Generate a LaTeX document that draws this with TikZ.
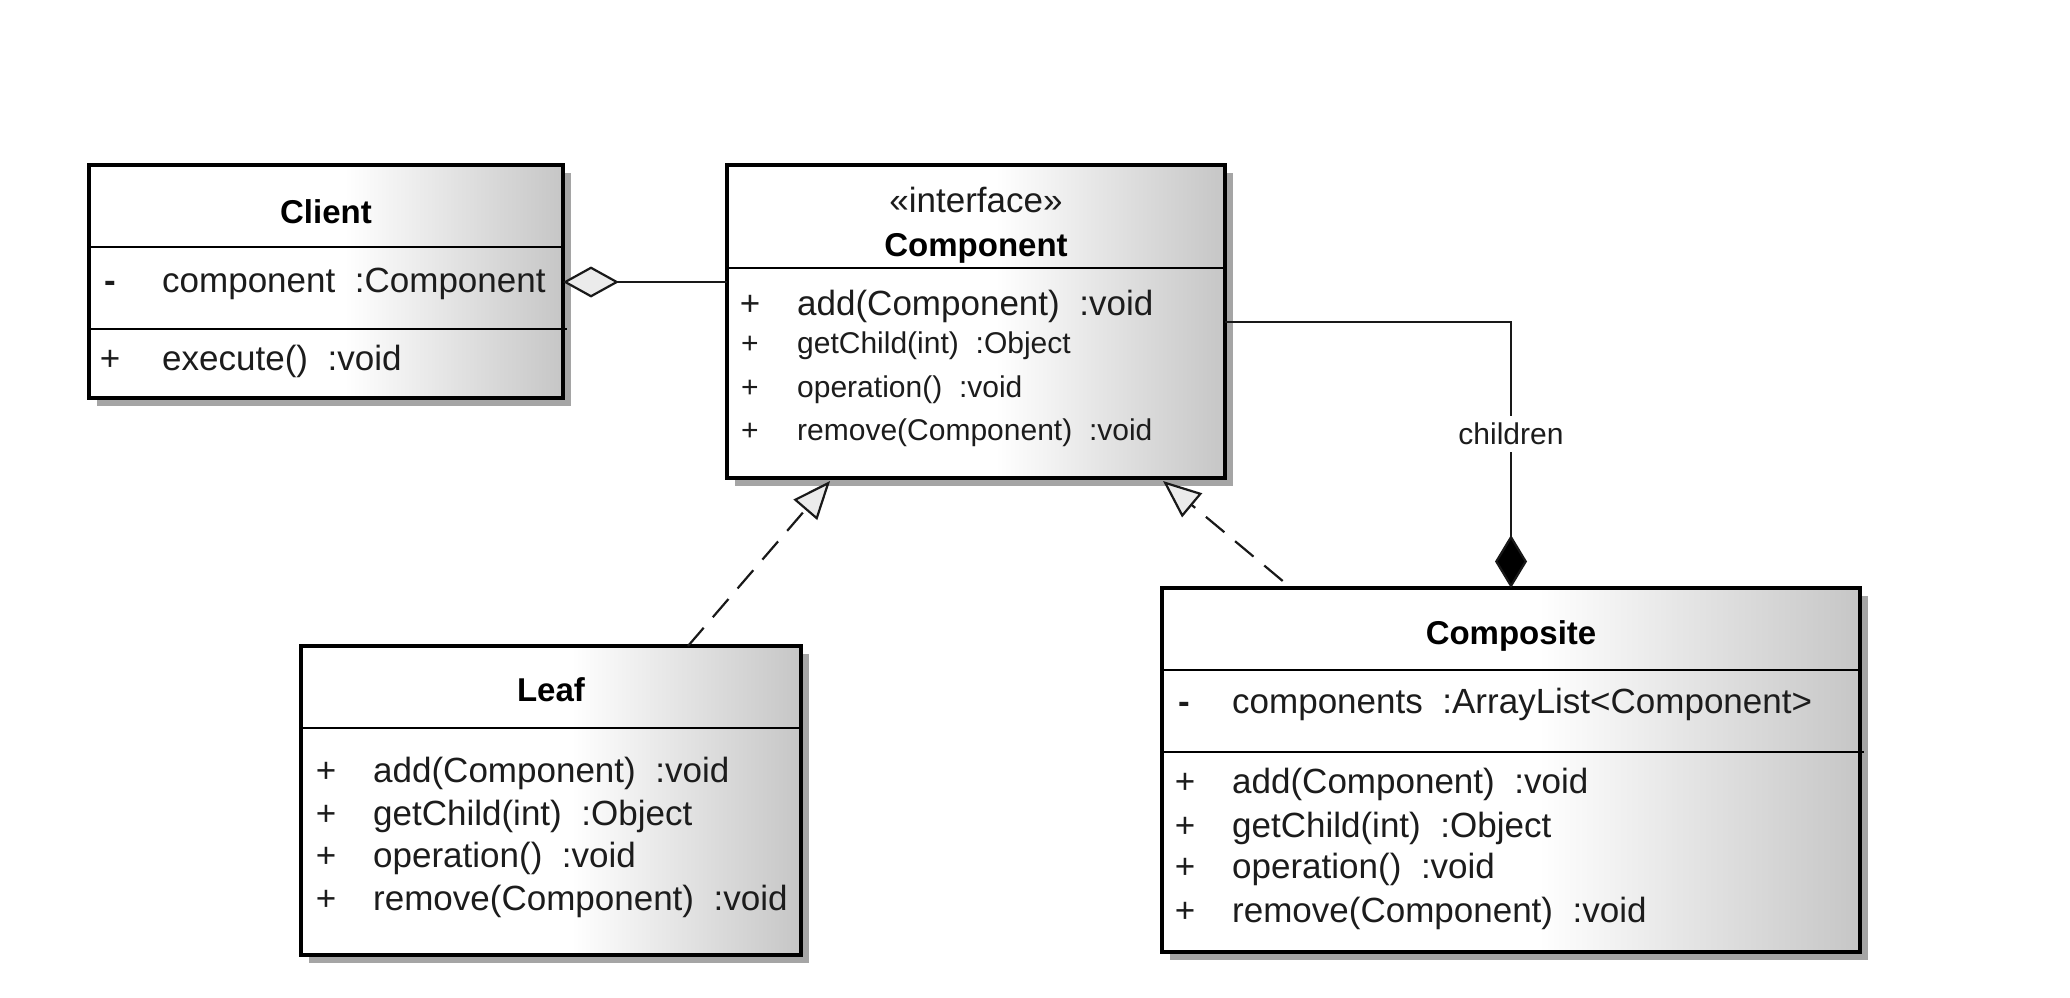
\documentclass[tikz,border=0pt]{standalone}
\usepackage{fontspec}
\setmainfont{Liberation Sans}
\usetikzlibrary{arrows.meta,calc,shadows}

\definecolor{shadowgray}{RGB}{165,165,165}
\definecolor{tipgray}{RGB}{235,235,235}
\definecolor{shadeend}{RGB}{198,198,198}
\definecolor{ink}{RGB}{28,28,28}

% white on the left half of a class box, fading to grey at its right edge
\pgfdeclarehorizontalshading{boxshade}{100bp}{color(0bp)=(white); color(25bp)=(white); color(52bp)=(white); color(75bp)=(shadeend); color(100bp)=(shadeend)}

\newcommand\typesep{\hspace{0.56em}}
\newcommand\memberfont{\fontsize{35}{42}\selectfont}
\newcommand\smallmemberfont{\fontsize{30}{36}\selectfont}
\newcommand\titlefont{\fontsize{33}{40}\selectfont\bfseries}

\begin{document}
\begin{tikzpicture}[x=1pt, y=-1pt,
  classbox/.style={draw=black, line width=3.2pt, shade, shading=boxshade,
    inner sep=0pt, outer sep=0pt,
    drop shadow={shadow xshift=8pt, shadow yshift=-8pt, fill=shadowgray, opacity=1}},
  divider/.style={line width=2.6pt, draw=black},
  member/.style={anchor=mid west, inner sep=0pt, yshift=-8pt, font=\memberfont, text=ink},
  smallmember/.style={member, font=\smallmemberfont},
  sign/.style={anchor=mid, inner sep=0pt, yshift=-8pt, font=\memberfont, text=ink},
  smallsign/.style={sign, font=\smallmemberfont},
  classtitle/.style={anchor=mid, inner sep=0pt, yshift=-6pt, font=\titlefont, text=black},
  stereo/.style={anchor=mid, inner sep=0pt, yshift=-6pt, font=\memberfont, text=ink},
  connector/.style={line width=2.2pt, draw=black!90},
  realize/.style={connector, dash pattern=on 24pt off 14pt,
    -{Triangle[length=38pt, width=31pt, fill=tipgray]}},
  aggregate/.style={connector, {Diamond[length=56pt, width=31pt, fill=tipgray]}-},
  compose/.style={connector, -{Diamond[length=53pt, width=32pt, fill=black]}},
  rolelabel/.style={font=\smallmemberfont, text=ink, fill=white, inner xsep=2pt, inner ysep=7pt}
]
\useasboundingbox (0,0) rectangle (2070,998);

% ---------- Client ----------
\node[classbox, minimum width=474pt, minimum height=233pt] (client) at (326,281.5) {};
\draw[divider] ($(client.north west)+(0,82)$) -- ($(client.north east)+(0,82)$);
\draw[divider] ($(client.north west)+(0,164)$) -- ($(client.north east)+(4,164)$);
\node[classtitle] (client-t) at ($(client.north)+(0,50)$) {Client};
\node[sign] (client-s1) at ($(client.north west)+(21,117)$) {\textbf{-}};
\node[member] (client-a) at ($(client.north west)+(73,117)$) {component\typesep:Component};
\node[sign] (client-s2) at ($(client.north west)+(21,195)$) {+};
\node[member] (client-m) at ($(client.north west)+(73,195)$) {execute()\typesep:void};

% ---------- Component ----------
\node[classbox, minimum width=498pt, minimum height=313pt] (component) at (976,321.5) {};
\draw[divider] ($(component.north west)+(0,103)$) -- ($(component.north east)+(0,103)$);
\node[stereo] (component-st) at ($(component.north)+(0,39)$) {«interface»};
\node[classtitle] (component-t) at ($(component.north)+(0,83)$) {Component};
\node[sign] (component-s1) at ($(component.north west)+(23,140)$) {+};
\node[member] (component-m1) at ($(component.north west)+(70,140)$) {add(Component)\typesep:void};
\node[smallsign] (component-s2) at ($(component.north west)+(23,178)$) {+};
\node[smallmember] (component-m2) at ($(component.north west)+(70,178)$) {getChild(int)\typesep:Object};
\node[smallsign] (component-s3) at ($(component.north west)+(23,222)$) {+};
\node[smallmember] (component-m3) at ($(component.north west)+(70,222)$) {operation()\typesep:void};
\node[smallsign] (component-s4) at ($(component.north west)+(23,265)$) {+};
\node[smallmember] (component-m4) at ($(component.north west)+(70,265)$) {remove(Component)\typesep:void};

% ---------- Leaf ----------
\node[classbox, minimum width=500pt, minimum height=309pt] (leaf) at (551,800.5) {};
\draw[divider] ($(leaf.north west)+(0,82)$) -- ($(leaf.north east)+(0,82)$);
\node[classtitle] (leaf-t) at ($(leaf.north)+(0,47)$) {Leaf};
\node[sign] (leaf-s1) at ($(leaf.north west)+(25,126)$) {+};
\node[member] (leaf-m1) at ($(leaf.north west)+(72,126)$) {add(Component)\typesep:void};
\node[sign] (leaf-s2) at ($(leaf.north west)+(25,169)$) {+};
\node[member] (leaf-m2) at ($(leaf.north west)+(72,169)$) {getChild(int)\typesep:Object};
\node[sign] (leaf-s3) at ($(leaf.north west)+(25,211)$) {+};
\node[member] (leaf-m3) at ($(leaf.north west)+(72,211)$) {operation()\typesep:void};
\node[sign] (leaf-s4) at ($(leaf.north west)+(25,254)$) {+};
\node[member] (leaf-m4) at ($(leaf.north west)+(72,254)$) {remove(Component)\typesep:void};

% ---------- Composite ----------
\node[classbox, minimum width=698pt, minimum height=364pt] (composite) at (1511,770) {};
\draw[divider] ($(composite.north west)+(0,82)$) -- ($(composite.north east)+(0,82)$);
\draw[divider] ($(composite.north west)+(0,164)$) -- ($(composite.north east)+(4,164)$);
\node[classtitle] (composite-t) at ($(composite.north)+(0,48)$) {Composite};
\node[sign] (composite-s0) at ($(composite.north west)+(22,115)$) {\textbf{-}};
\node[member] (composite-a) at ($(composite.north west)+(70,115)$) {components\typesep:ArrayList<Component>};
\node[sign] (composite-s1) at ($(composite.north west)+(23,195)$) {+};
\node[member] (composite-m1) at ($(composite.north west)+(70,195)$) {add(Component)\typesep:void};
\node[sign] (composite-s2) at ($(composite.north west)+(23,239)$) {+};
\node[member] (composite-m2) at ($(composite.north west)+(70,239)$) {getChild(int)\typesep:Object};
\node[sign] (composite-s3) at ($(composite.north west)+(23,280)$) {+};
\node[member] (composite-m3) at ($(composite.north west)+(70,280)$) {operation()\typesep:void};
\node[sign] (composite-s4) at ($(composite.north west)+(23,324)$) {+};
\node[member] (composite-m4) at ($(composite.north west)+(70,324)$) {remove(Component)\typesep:void};

% ---------- connectors ----------
\coordinate (client-link) at ($(client.north east)+(0,117)$);
\draw[aggregate] (client-link) -- (client-link -| component.west);

\coordinate (component-link) at ($(component.north east)+(0,157)$);
\draw[compose] (component-link) -| (composite.north)
  node[rolelabel, pos=0.71] {children};

\coordinate (leaf-tail) at ($(leaf.north west)!0.774!(leaf.north east)$);
\coordinate (leaf-head) at ($(component.south west)!0.207!(component.south east)$);
\draw[realize] (leaf-tail) -- ([yshift=-3pt]leaf-head);

\coordinate (composite-tail) at ($(composite.north west)!0.185!(composite.north east)$);
\coordinate (composite-head) at ($(component.south west)!0.8755!(component.south east)$);
\draw[realize, dash phase=27pt] (composite-tail) -- ([yshift=-3pt]composite-head);
\end{tikzpicture}
\end{document}
